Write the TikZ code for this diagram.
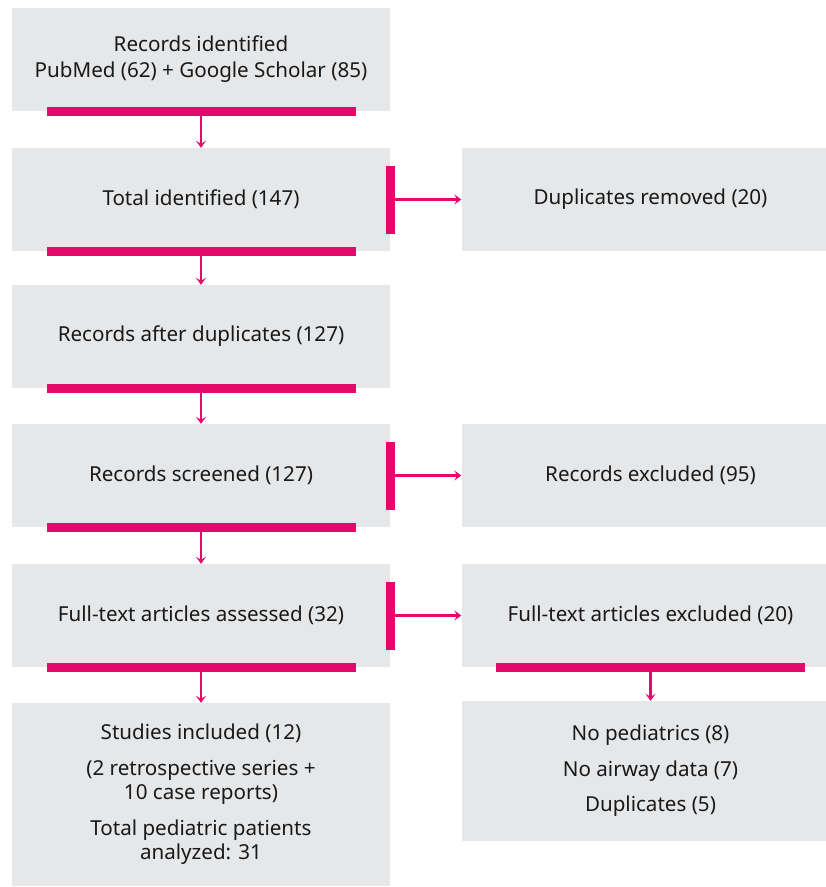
\documentclass[tikz,border=0pt]{standalone}
\usepackage{fontspec}
\setmainfont{Noto Sans}
\usetikzlibrary{arrows.meta}
\definecolor{boxgray}{RGB}{230,231,233}
\definecolor{accent}{RGB}{227,10,107}
\begin{document}
\begin{tikzpicture}[x=1pt,y=-1pt,
  box/.style={fill=boxgray,draw=none,inner sep=0pt,minimum width=378pt,align=center,font=\fontsize{20.6}{26}\selectfont,text=black!90},
  hbar/.style={fill=accent,draw=none,inner sep=0pt,minimum width=309pt,minimum height=9pt},
  vbar/.style={fill=accent,draw=none,inner sep=0pt,minimum width=9pt,minimum height=68pt},
  conn/.style={draw=accent,line width=2.6pt,-{Stealth[length=7pt,width=10pt,inset=3pt]}}]
\useasboundingbox (0,0) rectangle (826,887);
\begin{scope}
\clip (0,0) rectangle (826,887);
% left column
\node[box,minimum height=103pt] (b1) at (201,59.5) {Records identified\\PubMed (62) + Google Scholar (85)};
\node[box,minimum height=103pt] (b2) at (201,199.5) {Total identified (147)};
\node[box,minimum height=103pt] (b3) at (201,336.5) {Records after duplicates (127)};
\node[box,minimum height=103pt] (b4) at (201,475.5) {Records screened (127)};
\node[box,minimum height=103pt] (b5) at (201,615.5) {Full-text articles assessed (32)};
\node[box,minimum height=183pt,font=\fontsize{20.6}{24}\selectfont] (b6) at (201,794.5) {Studies included (12)\\[12pt](2 retrospective series +\\10 case reports)\\[12pt]Total pediatric patients\\analyzed: 31};
% right column
\node[box,minimum height=103pt] (r1) at (650.5,199.5) {Duplicates removed (20)};
\node[box,minimum height=103pt] (r2) at (650.5,475.5) {Records excluded (95)};
\node[box,minimum height=103pt] (r3) at (650.5,615.5) {Full-text articles excluded (20)};
\node[box,minimum height=140pt,font=\fontsize{20.6}{35.5}\selectfont] (r4) at (650.5,771) {No pediatrics (8)\\No airway data (7)\\Duplicates (5)};
\end{scope}
% bars
\node[hbar] (h1) at (b1.south) {};
\node[hbar] (h2) at (b2.south) {};
\node[hbar] (h3) at (b3.south) {};
\node[hbar] (h4) at (b4.south) {};
\node[hbar] (h5) at (b5.south) {};
\node[hbar] (h6) at (r3.south) {};
\node[vbar] (v1) at (b2.east) {};
\node[vbar] (v2) at (b4.east) {};
\node[vbar] (v3) at (b5.east) {};
% connectors
\draw[conn] (h1.south) -- (b2.north);
\draw[conn] (h2.south) -- (b3.north);
\draw[conn] (h3.south) -- (b4.north);
\draw[conn] (h4.south) -- (b5.north);
\draw[conn] (h5.south) -- (b6.north);
\draw[conn] (h6.south) -- (r4.north);
\draw[conn] (v1.east) -- (r1.west);
\draw[conn] (v2.east) -- (r2.west);
\draw[conn] (v3.east) -- (r3.west);
\end{tikzpicture}
\end{document}
